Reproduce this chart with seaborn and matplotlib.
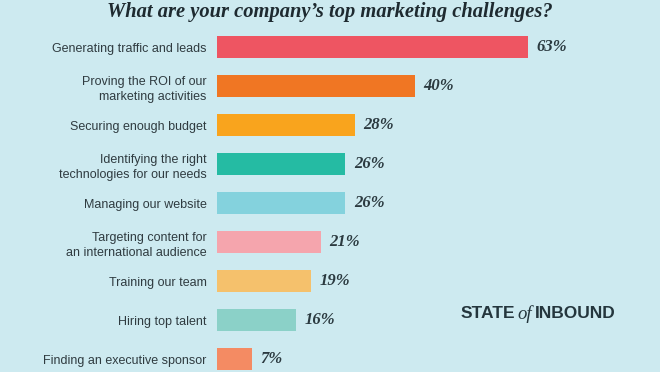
import matplotlib.pyplot as plt
import seaborn as sns
import pandas as pd

categories = [
    "Generating traffic and leads",
    "Proving the ROI of our\nmarketing activities",
    "Securing enough budget",
    "Identifying the right\ntechnologies for our needs",
    "Managing our website",
    "Targeting content for\nan international audience",
    "Training our team",
    "Hiring top talent",
    "Finding an executive sponsor",
]
values = [63, 40, 28, 26, 26, 21, 19, 16, 7]
colors = ["#ee5562", "#f07623", "#f9a41d", "#25bba3", "#84d2dd",
          "#f5a5ad", "#f5c16c", "#8bd1c8", "#f48b63"]

bg = "#cdeaf0"
df = pd.DataFrame({"challenge": categories, "pct": values})

sns.set_style("white")
fig = plt.figure(figsize=(6.6, 3.72), dpi=100, facecolor=bg)
ax = fig.add_axes([217 / 660, 0, 1 - 217 / 660, (372 - 27.5) / 372])
ax.set_facecolor(bg)

sns.barplot(data=df, x="pct", y="challenge", hue="challenge", palette=colors,
            orient="h", width=0.56, legend=False, ax=ax, saturation=1,
            linewidth=0)

ax.set_xlim(0, 89.7)
ax.set_ylim(8.33, -0.5)
ax.set_xlabel("")
ax.set_ylabel("")
ax.set_xticks([])
for s in ax.spines.values():
    s.set_visible(False)

ax.tick_params(axis="y", length=0, pad=7.5)
for lab in ax.get_yticklabels():
    lab.set_family("Liberation Sans")
    lab.set_fontsize(9)
    lab.set_color("#2f3b40")
    lab.set_multialignment("right")
    lab.set_linespacing(1.35)

for i, v in enumerate(values):
    ax.annotate(f"{v}%", (v, i), xytext=(6, 0), textcoords="offset points",
                va="center", ha="left", fontsize=12, style="italic",
                fontweight="bold", family="Liberation Serif", color="#2b3a40")

fig.text(0.5, 1 - 12.5 / 372, "What are your company\u2019s top marketing challenges?",
         ha="center", va="center", fontsize=14.8, style="italic",
         fontweight="bold", family="Liberation Serif", color="#1e2a30")

ly = 1 - 314 / 372
fig.text(515 / 660, ly, "STATE", ha="right", va="center", fontsize=12.5,
         fontweight="bold", family="Liberation Sans", color="#24363d")
fig.text(525 / 660, ly, "of", ha="center", va="center", fontsize=13.5,
         style="italic", family="Liberation Serif", color="#24363d")
fig.text(535 / 660, ly, "INBOUND", ha="left", va="center", fontsize=12.5,
         fontweight="bold", family="Liberation Sans", color="#24363d")

fig.savefig("out.png", dpi=100, facecolor=bg)
